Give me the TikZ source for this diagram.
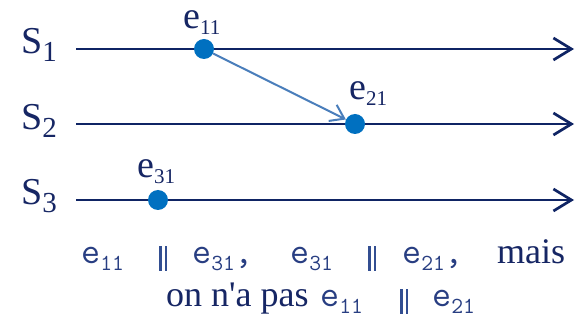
\documentclass[tikz,border=0pt]{standalone}
\usepackage{fontspec}
\setmainfont{Liberation Serif}
\newfontfamily\rawserif{Liberation Serif}[Ligatures=TeXOff]
\usetikzlibrary{arrows.meta}
\definecolor{navy}{RGB}{15,36,100}
\definecolor{textnavy}{RGB}{22,38,100}
\definecolor{monoblue}{RGB}{40,62,130}
\definecolor{parblue}{RGB}{50,78,145}
\definecolor{dotblue}{RGB}{0,112,192}
\definecolor{arrblue}{RGB}{74,126,187}
\newcommand{\Slab}[1]{\fontsize{38}{38}\selectfont S\raisebox{-8pt}{\fontsize{29}{29}\selectfont #1}}
\newcommand{\elab}[1]{\fontsize{38}{38}\selectfont e\raisebox{-6pt}{\fontsize{21}{21}\selectfont #1}}
\newcommand{\me}[1]{\textcolor{monoblue}{{\fontsize{37}{37}\ttfamily e}\raisebox{-7pt}{\fontsize{23}{23}\ttfamily #1}}}
\newcommand{\mc}{\textcolor{monoblue}{\fontsize{37}{37}\ttfamily,}}
\newcommand{\pl}{\textcolor{parblue}{\rule[-7pt]{2.4pt}{25pt}\hspace{3pt}\rule[-7pt]{2.4pt}{25pt}}}
\begin{document}
\begin{tikzpicture}[x=1pt,y=-1pt,
  timeline/.style={draw=navy, line width=2.7pt, -{Straight Barb[length=18pt,width=22pt]}},
  ev/.style={circle, fill=dotblue, inner sep=0pt, minimum size=20pt},
  msg/.style={draw=arrblue, line width=2pt, -{Straight Barb[length=13pt,width=18pt]}},
  lab/.style={anchor=base west, inner sep=0pt, text=textnavy},
  txt/.style={anchor=base west, inner sep=0pt, text=textnavy}]
\fill[white] (0,0) rectangle (581,320);
\useasboundingbox (0,0) rectangle (581,320);
% time lines
\coordinate (a1) at (76,49);  \coordinate (b1) at (574,49);
\coordinate (a2) at (76,124); \coordinate (b2) at (574,124);
\coordinate (a3) at (76,200); \coordinate (b3) at (574,200);
\draw[timeline] (a1) -- (b1);
\draw[timeline] (a2) -- (b2);
\draw[timeline] (a3) -- (b3);
% process labels
\node[lab] (s1) at (21,54)  {\Slab{1}};
\node[lab] (s2) at (21,130) {\Slab{2}};
\node[lab] (s3) at (21,205) {\Slab{3}};
% events
\node[ev] (e11) at (204,49) {};
\node[ev] (e21) at (355,124) {};
\node[ev] (e31) at (158,200) {};
\draw[msg] (e11) -- (e21);
% event labels
\node[lab] (l11) at (183,29)  {\elab{11}};
\node[lab] (l21) at (349,100) {\elab{21}};
\node[lab] (l31) at (137,178) {\elab{31}};
% bottom text
\node[txt] (t1) at (81,264) {\makebox[78pt][l]{\me{11}}\makebox[33pt][l]{\pl}\makebox[98pt][l]{\me{31}\mc}\makebox[78pt][l]{\me{31}}\makebox[34pt][l]{\pl}\makebox[95pt][l]{\me{21}\mc}{\fontsize{36}{36}\selectfont mais}};
\node[txt] (t2) at (166,307) {\makebox[154pt][l]{\fontsize{36}{36}\selectfont on n{\rawserif'}a pas}\makebox[80pt][l]{\me{11}}\makebox[32pt][l]{\pl}\me{21}};
\end{tikzpicture}
\end{document}
